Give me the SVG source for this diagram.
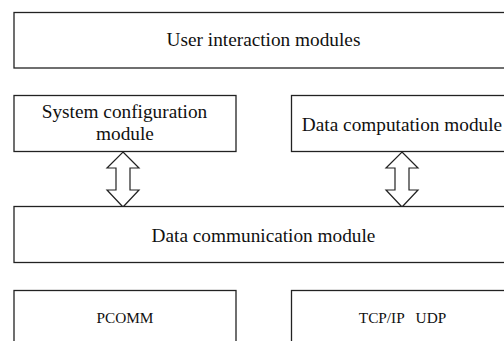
<svg xmlns="http://www.w3.org/2000/svg" width="504" height="341" viewBox="0 0 504 341">
<style>
.box{fill:#fff;stroke:#222;stroke-width:1.3}
.t{font-family:"Liberation Serif","Times New Roman",serif;font-size:19.3px;fill:#111;text-anchor:middle}
.s{font-family:"Liberation Serif","Times New Roman",serif;font-size:15.3px;fill:#111;text-anchor:middle;white-space:pre}
.arr{fill:#fff;stroke:#222;stroke-width:1.2;stroke-linejoin:miter}
</style>
<rect width="504" height="341" fill="#fff"/>
<g id="connectors">
<polygon class="arr" points="123,152 139,168 130,168 130,190 139,190 123,207 107,190 116,190 116,168 107,168"/>
<polygon class="arr" points="402,152 418,168 409,168 409,190 418,190 402,207 386,190 395,190 395,168 386,168"/>
</g>
<g id="user-interaction">
<rect class="box" x="14" y="12.5" width="500" height="55.5"/>
<text class="t" x="263.5" y="46">User interaction modules</text>
</g>
<g id="system-configuration">
<rect class="box" x="14" y="95.5" width="222" height="56"/>
<text class="t" x="124.5" y="117.5">System configuration</text>
<text class="t" x="125" y="140">module</text>
</g>
<g id="data-computation">
<rect class="box" x="291.5" y="95.5" width="222" height="56"/>
<text class="t" x="402" y="130.5">Data computation module</text>
</g>
<g id="data-communication">
<rect class="box" x="14" y="206.5" width="500" height="56"/>
<text class="t" x="263.5" y="242">Data communication module</text>
</g>
<g id="pcomm">
<rect class="box" x="14" y="290.5" width="222" height="60"/>
<text class="s" x="125" y="322.7">PCOMM</text>
</g>
<g id="tcpip-udp">
<rect class="box" x="291.5" y="290.5" width="222" height="60"/>
<text class="s" x="402.5" y="322.7">TCP/IP   UDP</text>
</g>
</svg>
